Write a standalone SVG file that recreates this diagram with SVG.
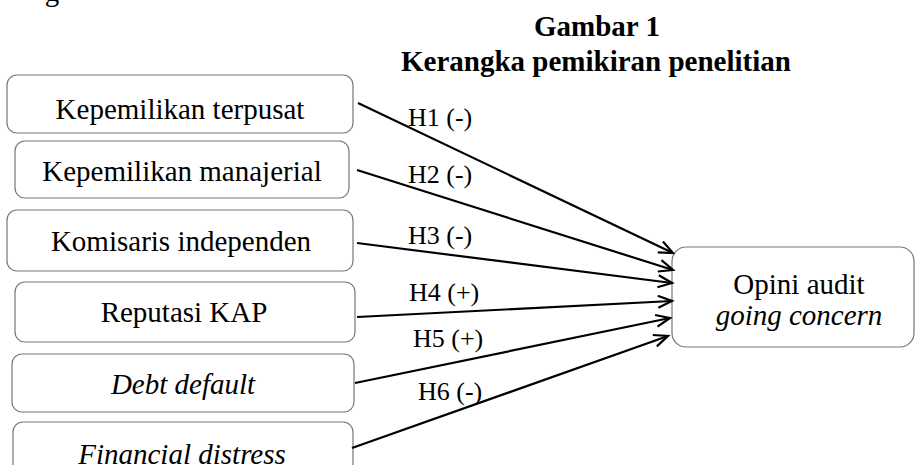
<svg xmlns="http://www.w3.org/2000/svg" width="915" height="465" viewBox="0 0 915 465">
<style>
.box{fill:#fff;stroke:#777;stroke-width:1.2}
.t{font-family:"Liberation Serif","Times New Roman",serif;font-size:29px;fill:#000;text-anchor:middle}
.i{font-style:italic}
.h{font-family:"Liberation Serif","Times New Roman",serif;font-size:29px;font-weight:bold;fill:#000;text-anchor:middle}
.l{font-family:"Liberation Serif","Times New Roman",serif;font-size:26px;fill:#000}
.c{stroke:#000;stroke-width:2.2;fill:none}
</style>
<defs>
<marker id="arr" markerUnits="userSpaceOnUse" markerWidth="20" markerHeight="20" refX="15" refY="7" orient="auto">
<path d="M1,1 L15,7 L1,13" fill="none" stroke="#000" stroke-width="2.2"/>
</marker>
</defs>
<rect width="915" height="465" fill="#fff"/>
<text class="t" x="52" y="1">g</text>
<g id="title">
<text class="h" x="597" y="36">Gambar 1</text>
<text class="h" x="596" y="71">Kerangka pemikiran penelitian</text>
</g>
<g id="n1"><rect class="box" x="7" y="75" width="346" height="58" rx="10"/><text class="t" x="180" y="119">Kepemilikan terpusat</text></g>
<g id="n2"><rect class="box" x="15" y="141" width="334" height="57" rx="10"/><text class="t" x="182" y="181">Kepemilikan manajerial</text></g>
<g id="n3"><rect class="box" x="7" y="210" width="346" height="61" rx="10"/><text class="t" x="181" y="251">Komisaris independen</text></g>
<g id="n4"><rect class="box" x="15" y="282" width="340" height="60" rx="10"/><text class="t" x="184" y="322">Reputasi KAP</text></g>
<g id="n5"><rect class="box" x="12" y="354" width="342" height="58" rx="10"/><text class="t i" x="183" y="394">Debt default</text></g>
<g id="n6"><rect class="box" x="13" y="422" width="340" height="60" rx="10"/><text class="t i" x="182" y="464">Financial distress</text></g>
<g id="n7"><rect class="box" x="672" y="247" width="242" height="100" rx="14"/><text class="t" x="799" y="294">Opini audit</text><text class="t i" x="799" y="325">going concern</text></g>
<g id="connectors">
<line class="c" x1="358" y1="103" x2="673" y2="253" marker-end="url(#arr)"/>
<line class="c" x1="357" y1="170" x2="673" y2="270" marker-end="url(#arr)"/>
<line class="c" x1="357" y1="243" x2="672" y2="283" marker-end="url(#arr)"/>
<line class="c" x1="357" y1="317" x2="672" y2="301" marker-end="url(#arr)"/>
<line class="c" x1="355" y1="383" x2="670" y2="318" marker-end="url(#arr)"/>
<line class="c" x1="352" y1="448" x2="668" y2="336" marker-end="url(#arr)"/>
<text class="l" x="408" y="126">H1 (-)</text>
<text class="l" x="408" y="183">H2 (-)</text>
<text class="l" x="408" y="244">H3 (-)</text>
<text class="l" x="409" y="301">H4 (+)</text>
<text class="l" x="413" y="347">H5 (+)</text>
<text class="l" x="418" y="400">H6 (-)</text>
</g>
</svg>
